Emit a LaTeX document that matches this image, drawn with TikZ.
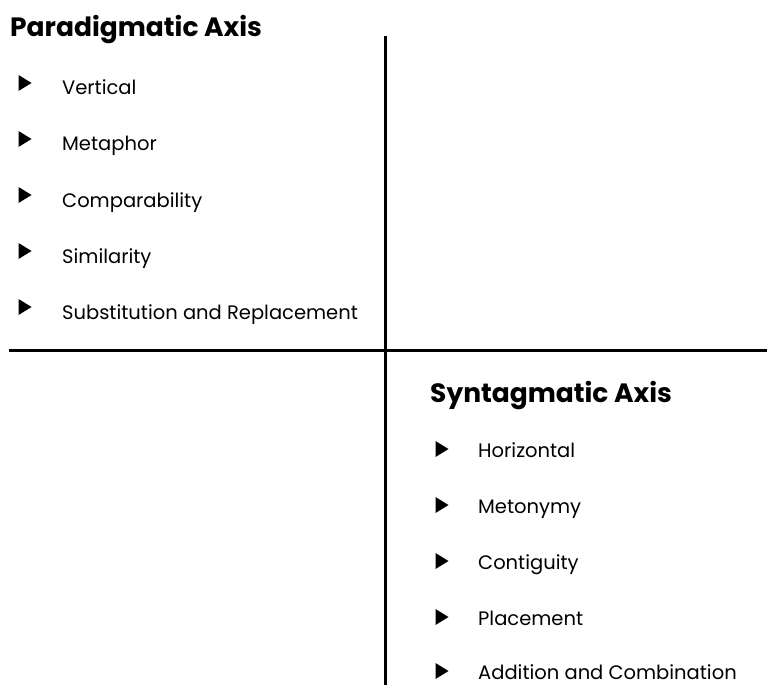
\documentclass[tikz,border=0pt]{standalone}
\usepackage{fontspec}
\setmainfont{Poppins}
\usetikzlibrary{shapes.geometric}
\begin{document}
\begin{tikzpicture}[x=1bp, y=-1bp,
    axisline/.style={line width=3bp, line cap=rect},
    headlbl/.style={font=\fontsize{26.5bp}{30bp}\selectfont\bfseries, anchor=base west, inner sep=0pt},
    itemlbl/.style={font=\fontsize{19.5bp}{22bp}\selectfont, anchor=base west, inner sep=0pt},
    bulletmark/.style={isosceles triangle, isosceles triangle stretches, fill=black,
      inner sep=0pt, minimum width=16bp, minimum height=13bp}
  ]
  \useasboundingbox (0,0) rectangle (767,685);
  % the two axes
  \coordinate (vtop) at (385,38);
  \coordinate (vbot) at (385,683);
  \coordinate (hleft) at (10,350);
  \coordinate (hright) at (767,350);
  \draw[axisline] (vtop) -- (vbot);
  \draw[axisline] (hleft) -- (hright);
  % paradigmatic list
  \node[headlbl] (parahead) at (10,37) {Paradigmatic Axis};
  \foreach \name/\lbl/\y in {%
    vert/Vertical/95,
    meta/Metaphor/151,
    comp/Comparability/207,
    simi/Similarity/263,
    subs/Substitution and Replacement/319%
  }{
    \node[bulletmark] (b-\name) at (23,\y-12) {};
    \node[itemlbl] (\name) at (62,\y) {\lbl};
  }
  % syntagmatic list
  \node[headlbl] (synthead) at (430,402) {Syntagmatic Axis};
  \foreach \name/\lbl/\y in {%
    hori/Horizontal/457,
    meto/Metonymy/513,
    cont/Contiguity/569,
    plac/Placement/625,
    addi/Addition and Combination/679%
  }{
    \node[bulletmark] (b-\name) at (440,\y-8) {};
    \node[itemlbl] (\name) at (478,\y) {\lbl};
  }
\end{tikzpicture}
\end{document}
